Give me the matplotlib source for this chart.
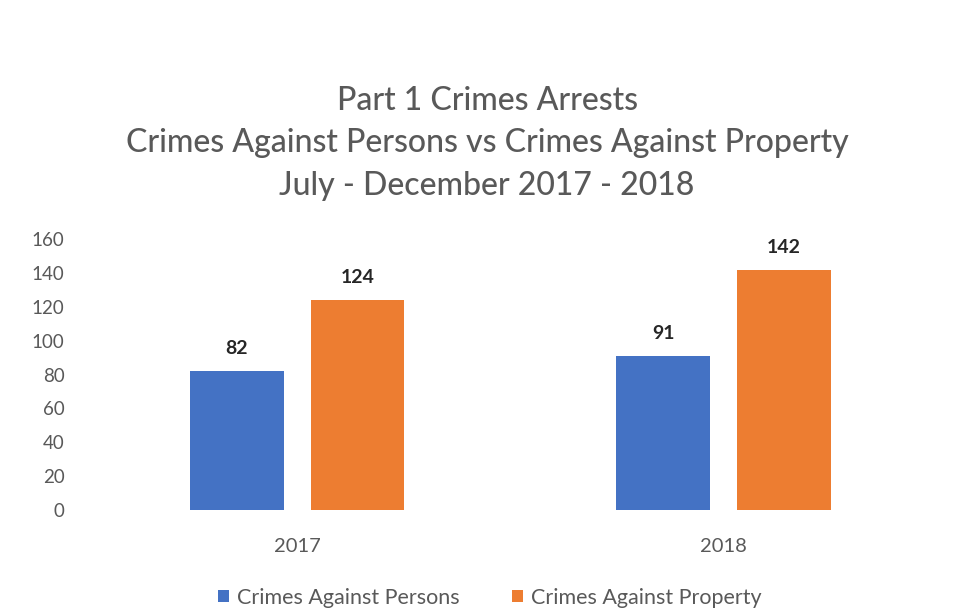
import numpy as np
import matplotlib.pyplot as plt

plt.rcParams['font.family'] = ['Lato', 'DejaVu Sans']

years = ['2017', '2018']
persons = [82, 91]
property_ = [124, 142]
series_names = ['Crimes Against Persons', 'Crimes Against Property']
y_ticks = [0, 20, 40, 60, 80, 100, 120, 140, 160]

blue = '#4472C4'
orange = '#ED7D31'
grey = '#595959'

fig = plt.figure(figsize=(9.55, 6.13), dpi=100)
ax = fig.add_axes([0.088, 0.168, 0.893, 0.442])

x = np.arange(len(years))
w = 0.22
off = 0.1415
b1 = ax.bar(x - off, persons, w, color=blue, label=series_names[0])
b2 = ax.bar(x + off, property_, w, color=orange, label=series_names[1])

for bars in (b1, b2):
    for r in bars:
        ax.annotate(f'{r.get_height():.0f}', (r.get_x() + r.get_width() / 2, r.get_height()),
                    xytext=(0, 10), textcoords='offset points', ha='center', va='bottom',
                    fontsize=14, fontweight='bold', color='#262626')

ax.set_xlim(-0.5, 1.5)
ax.set_ylim(0, 160)
ax.set_yticks(y_ticks)
ax.set_xticks(x)
ax.set_xticklabels(years)
ax.tick_params(axis='y', length=0, pad=14, labelsize=13.5, labelcolor=grey)
ax.tick_params(axis='x', length=0, pad=20, labelsize=14.5, labelcolor=grey)
for s in ax.spines.values():
    s.set_visible(False)

title_lines = ['Part 1 Crimes Arrests',
               'Crimes Against Persons vs Crimes Against Property',
               'July - December 2017 - 2018']
for i, line in enumerate(title_lines):
    fig.text(0.51, 0.835 - i * 0.069, line, ha='center', va='center',
             fontsize=23, color=grey, fontweight='medium')

fig.legend(loc='center', bbox_to_anchor=(0.513, 0.025), ncol=2, frameon=False,
           fontsize=15.5, labelcolor=grey, handlelength=0.5, handleheight=0.5,
           handletextpad=0.4, columnspacing=2.4)

fig.savefig('out.png', dpi=100, facecolor='white')
